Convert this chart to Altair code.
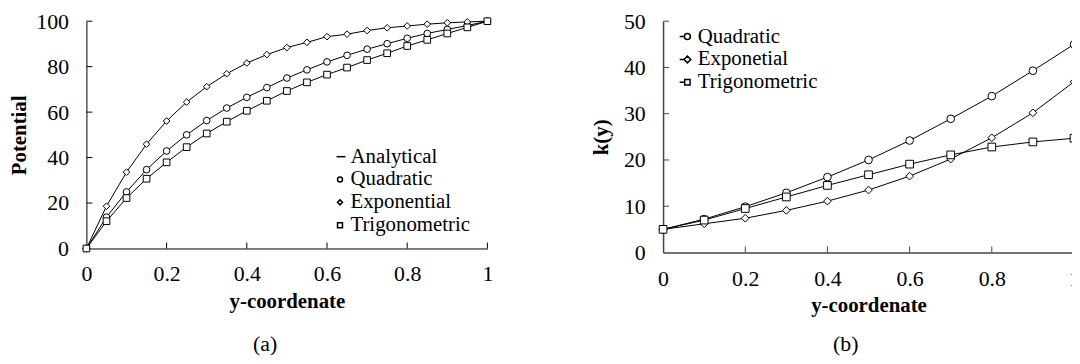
import altair as alt
import pandas as pd

FONT = "Liberation Serif"

# ---------------- Panel (a): Potential ----------------
xa = [0, 0.05, 0.1, 0.15, 0.2, 0.25, 0.3, 0.35, 0.4, 0.45, 0.5,
      0.55, 0.6, 0.65, 0.7, 0.75, 0.8, 0.85, 0.9, 0.95, 1.0]
quad_a = [0, 13.8, 24.9, 34.7, 42.9, 50.0, 56.3, 61.8, 66.5, 70.8, 75.0,
          78.6, 82.1, 85.0, 87.7, 90.1, 92.5, 94.6, 96.4, 98.1, 100]
exp_a = [0, 18.6, 33.6, 45.9, 56.1, 64.4, 71.2, 76.9, 81.6, 85.3, 88.4,
         90.7, 93.2, 94.3, 95.9, 97.1, 97.9, 98.7, 99.3, 99.7, 100]
trig_a = [0, 12.0, 22.2, 30.7, 37.9, 44.6, 50.6, 55.8, 60.6, 65.0, 69.3,
          73.1, 76.5, 79.6, 82.9, 85.9, 89.1, 91.8, 94.6, 97.3, 100]
names_a = ["Quadratic", "Exponential", "Trigonometric"]
legend_a = ["Analytical", "Quadratic", "Exponential", "Trigonometric"]
yvals_a = [0, 20, 40, 60, 80, 100]

# ---------------- Panel (b): k(y) ----------------
xb = [0, 0.1, 0.2, 0.3, 0.4, 0.5, 0.6, 0.7, 0.8, 0.9, 1.0]
quad_b = [5.0, 7.2, 9.9, 12.9, 16.3, 20.0, 24.2, 28.9, 33.8, 39.3, 45.0]
exp_b = [5.0, 6.2, 7.4, 9.1, 11.1, 13.5, 16.5, 20.2, 24.8, 30.2, 36.9]
trig_b = [5.0, 7.0, 9.5, 12.0, 14.5, 16.8, 19.1, 21.1, 22.8, 23.9, 24.7]
names_b = ["Quadratic", "Exponetial", "Trigonometric"]
yvals_b = [0, 10, 20, 30, 40, 50]

xvals = [0, 0.2, 0.4, 0.6, 0.8, 1.0]


def long_df(x, series, names):
    rows = []
    for name, vals in zip(names, series):
        for xv, yv in zip(x, vals):
            rows.append({"x": xv, "y": yv, "series": name})
    return pd.DataFrame(rows)


def make_legend(leg_x, leg_y, leg_size, sym_offset):
    return alt.Legend(orient="none", legendX=leg_x, legendY=leg_y, title=None,
                      labelFont=FONT, labelFontSize=21, labelColor="black",
                      labelOffset=0, symbolOffset=sym_offset,
                      symbolSize=leg_size, rowPadding=1, padding=0)


def panel(df, names, W, H, ydom, yvals, ytitle, ytitle_x,
          shape_dom, shape_rng, pt_size, legend_on_points,
          leg_dom, leg_rng, leg_size, leg_x, leg_y, sym_offset,
          caption, cap_dx, cap_offset, dom_color, dom_width, xlab_pad):
    xs = alt.Scale(domain=[0, 1], nice=False, zero=False)
    ys = alt.Scale(domain=ydom, nice=False, zero=False)
    xaxis = alt.Axis(values=xvals, format="~g", title="y-coordenate",
                     ticks=False, tickSize=0, grid=False,
                     labelFont=FONT, labelFontSize=22, labelColor="black",
                     labelBaseline="alphabetic", labelPadding=xlab_pad,
                     labelFlush=False, labelOverlap=False,
                     titleFont=FONT, titleFontSize=21, titleFontWeight="bold",
                     titleColor="black", titleBaseline="alphabetic", titleY=59,
                     domainColor=dom_color, domainWidth=dom_width)
    yaxis = alt.Axis(values=yvals, title=ytitle, ticks=False, tickSize=0,
                     grid=False, labelFont=FONT, labelFontSize=22,
                     labelColor="black", labelPadding=18, labelFlush=False,
                     labelOverlap=False,
                     titleFont=FONT, titleFontSize=21, titleFontWeight="bold",
                     titleColor="black", titleBaseline="middle",
                     titleX=ytitle_x, titleY=H / 2, titleAngle=270,
                     domainColor=dom_color, domainWidth=dom_width)

    base = alt.Chart(df)
    lines = base.mark_line(color="black", strokeWidth=1).encode(
        x=alt.X("x:Q", scale=xs, axis=xaxis),
        y=alt.Y("y:Q", scale=ys, axis=yaxis),
        detail="series:N",
    )
    points = base.mark_point(filled=False, fill="white", stroke="black",
                             strokeWidth=1, fillOpacity=1,
                             size=pt_size).encode(
        x=alt.X("x:Q", scale=xs, axis=xaxis),
        y=alt.Y("y:Q", scale=ys, axis=yaxis),
        shape=alt.Shape("series:N",
                        scale=alt.Scale(domain=shape_dom, range=shape_rng),
                        legend=(make_legend(leg_x, leg_y, leg_size, sym_offset)
                                if legend_on_points else None)),
    )
    layers = [lines, points]
    if not legend_on_points:
        legend_layer = alt.Chart(pd.DataFrame({"series": leg_dom})).transform_filter(
            "false"
        ).mark_point(
            filled=False, fill="white", stroke="black", strokeWidth=1,
            fillOpacity=1, size=leg_size,
        ).encode(
            shape=alt.Shape("series:N",
                            scale=alt.Scale(domain=leg_dom, range=leg_rng),
                            legend=make_legend(leg_x, leg_y, leg_size,
                                               sym_offset)),
        )
        layers.append(legend_layer)
    ytick_df = pd.DataFrame({"yv": [v for v in yvals if v != ydom[0]]})
    xtick_df = pd.DataFrame({"xv": [v for v in xvals if v != 0]})
    yticks = alt.Chart(ytick_df).mark_rule(color=dom_color, strokeWidth=1).encode(
        y=alt.Y("yv:Q", scale=ys, axis=yaxis),
        x=alt.value(0), x2=alt.value(6),
    )
    xticks = alt.Chart(xtick_df).mark_rule(color=dom_color, strokeWidth=1).encode(
        x=alt.X("xv:Q", scale=xs, axis=xaxis),
        y=alt.value(H), y2=alt.value(H - 6),
    )
    layers += [yticks, xticks]
    ch = alt.layer(*layers)
    if not legend_on_points:
        ch = ch.resolve_scale(shape="independent")
    return ch.properties(
        width=W, height=H,
        title=alt.TitleParams(caption, orient="bottom", dx=cap_dx,
                              offset=cap_offset, font=FONT, fontSize=22,
                              fontWeight="normal", color="black"),
    )


df_a = long_df(xa, [quad_a, exp_a, trig_a], names_a)
df_b = long_df(xb, [quad_b, exp_b, trig_b], names_b)

left = panel(
    df_a, names_a, 404, 229, [0, 100], yvals_a, "Potential", -67,
    legend_a, ["M-1.4,0H2.2", "circle", "diamond", "square"], 45, True,
    legend_a, None, 25, 240, 126, 5,
    "(a)", -22, 23, "black", 1, 32,
)
right = panel(
    df_b, names_b, 414, 233, [0, 50], yvals_b, "k(y)", -62,
    names_b, ["circle", "diamond", "square"], 60, False,
    names_b,
    ["M-2.6,0H-1M-1,0A1,1,0,1,1,1,0A1,1,0,1,1,-1,0Z",
     "M-2.6,0H-1.15M-1.15,0L0,-1.15L1.15,0L0,1.15Z",
     "M-2.6,0H-0.9M-0.9,-0.9H0.9V0.9H-0.9Z"],
    36, 8, 5, 6,
    "(b)", -23, 19, "#444444", 1.5, 33,
)

chart = alt.hconcat(left, right, spacing=98).properties(
    autosize=alt.AutoSizeParams(type="none"),
    padding={"left": 79, "top": 12, "right": 993, "bottom": 336},
).configure_view(stroke=None)

chart.save("out.html", embed_options={"renderer": "svg", "actions": False})
